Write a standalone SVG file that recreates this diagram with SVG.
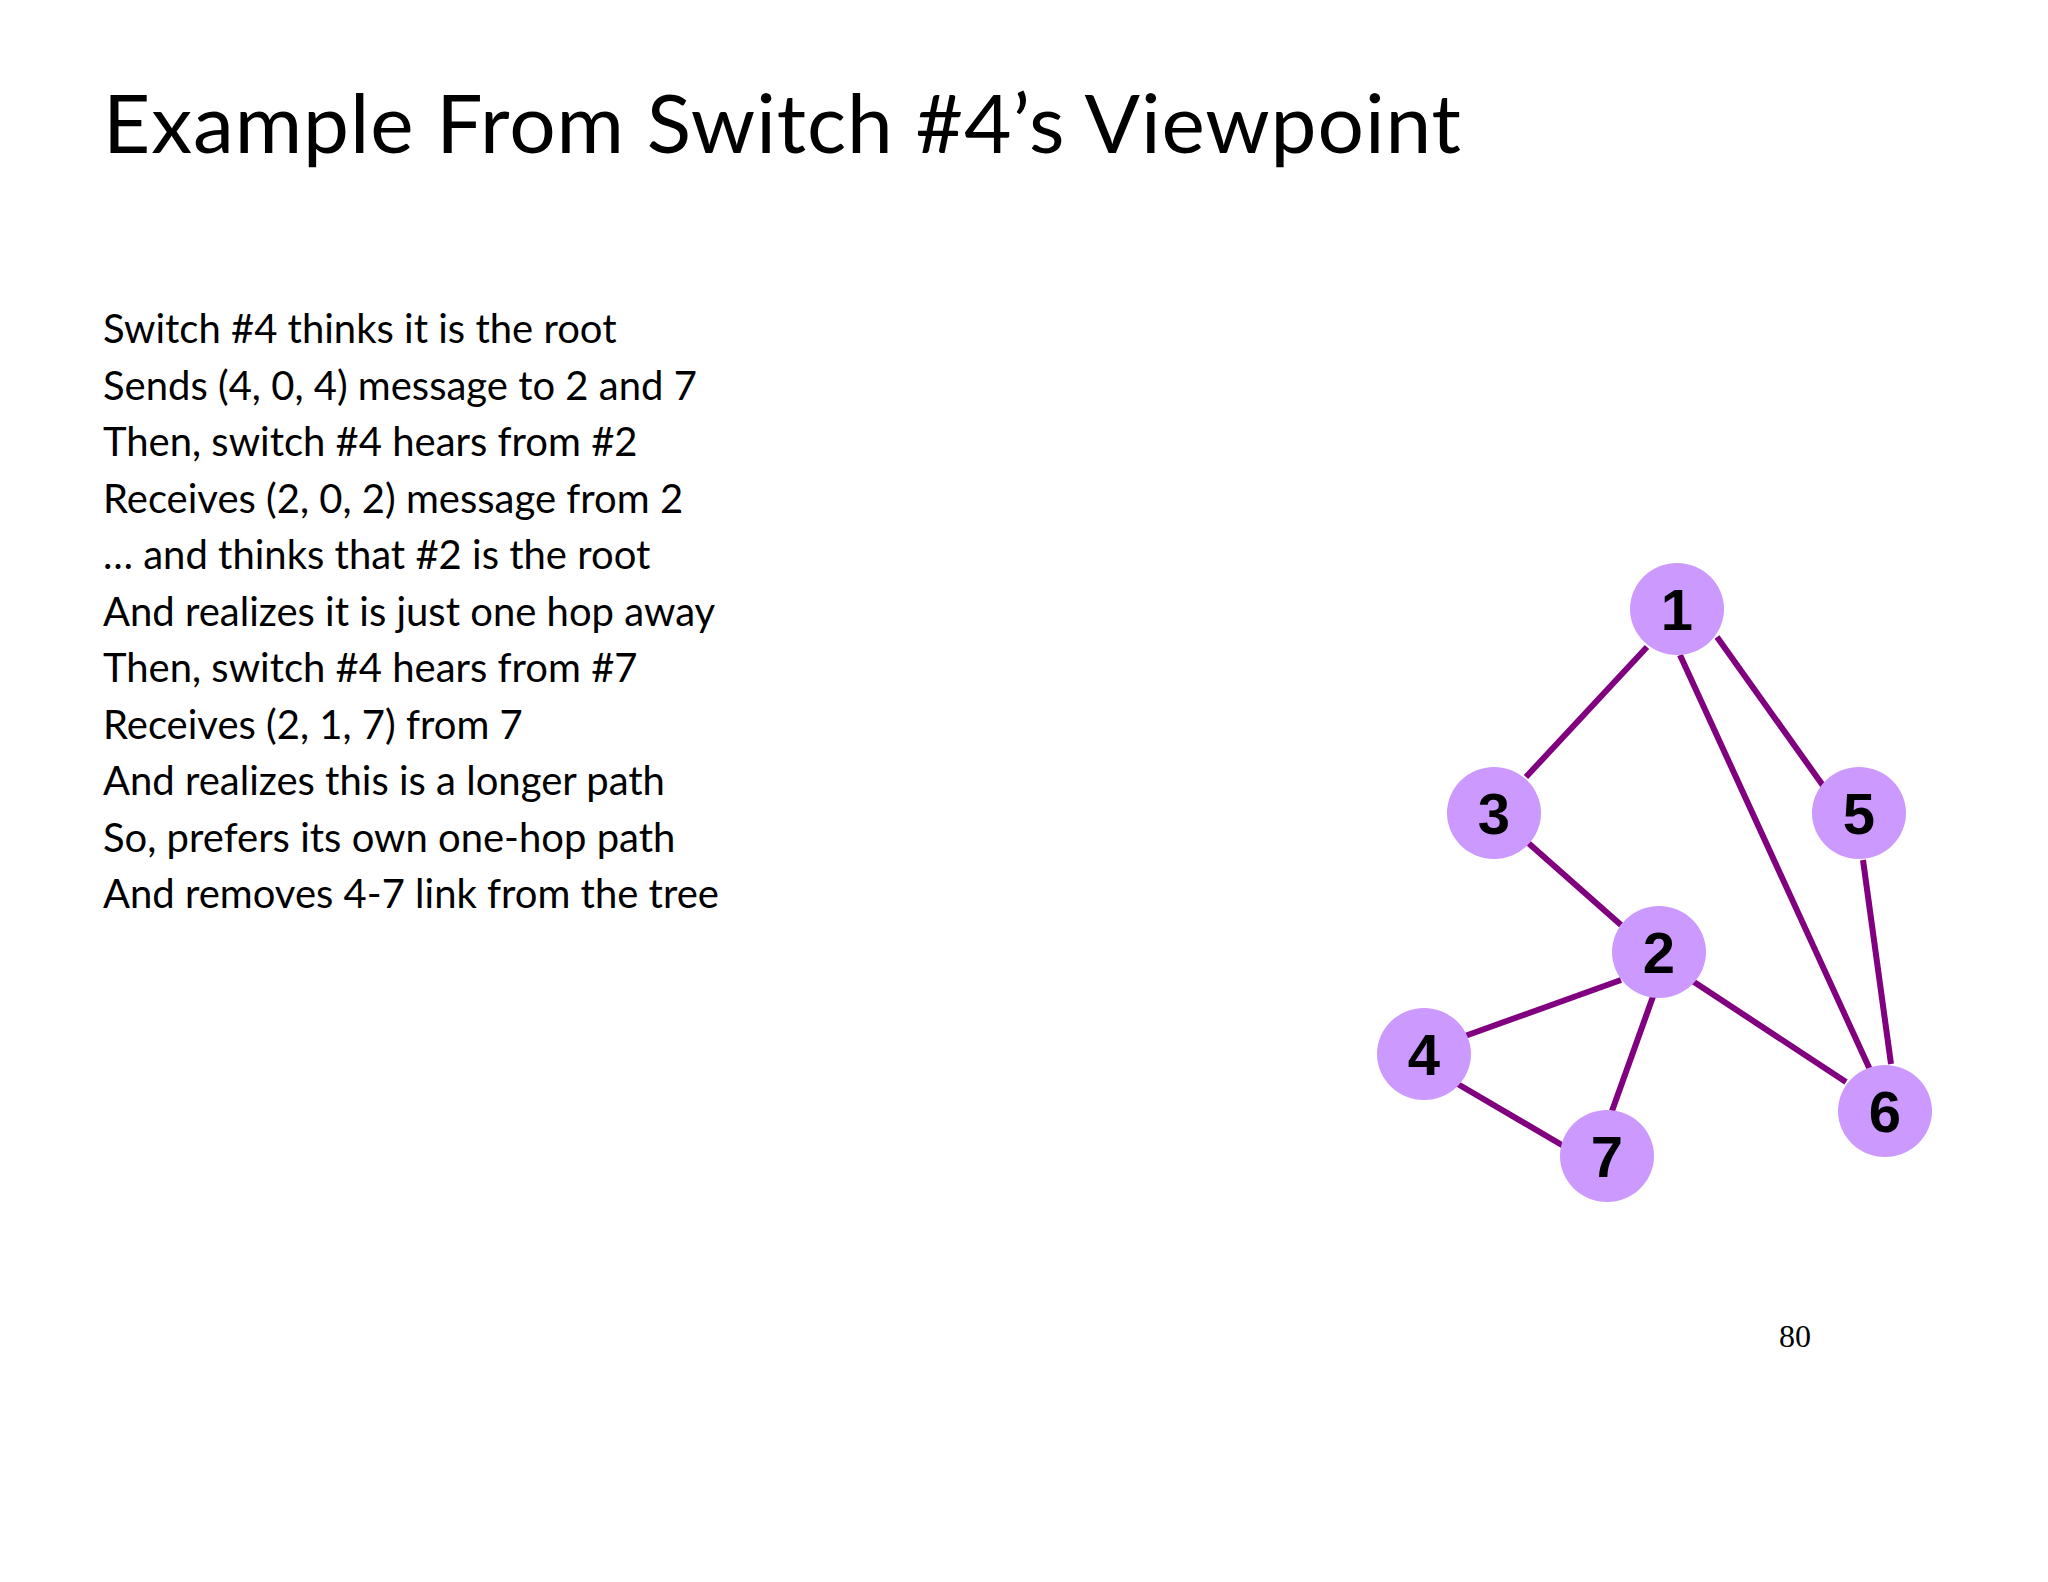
<svg xmlns="http://www.w3.org/2000/svg" width="2048" height="1582" viewBox="0 0 2048 1582">
<style>
.t{font-family:Lato,"Open Sans",sans-serif;fill:#000}
.b{font-size:40px}
.n ellipse{fill:#CC99FF}
.n text{font-family:"Liberation Sans",Arial,sans-serif;font-weight:bold;font-size:58px;text-anchor:middle;fill:#000}
#edges line{stroke:#800080;stroke-width:6}
</style>
<rect width="2048" height="1582" fill="#fff"/>
<text class="t" x="103" y="153" font-size="82" textLength="1358">Example From Switch #4’s Viewpoint</text>
<g class="t b">
<text x="103" y="343">Switch #4 thinks it is the root</text>
<text x="103" y="400">Sends (4, 0, 4) message to 2 and 7</text>
<text x="103" y="456">Then, switch #4 hears from #2</text>
<text x="103" y="513">Receives (2, 0, 2) message from 2</text>
<text x="103" y="569">… and thinks that #2 is the root</text>
<text x="103" y="626">And realizes it is just one hop away</text>
<text x="103" y="682">Then, switch #4 hears from #7</text>
<text x="103" y="739">Receives (2, 1, 7) from 7</text>
<text x="103" y="795">And realizes this is a longer path</text>
<text x="103" y="852">So, prefers its own one-hop path</text>
<text x="103" y="908">And removes 4-7 link from the tree</text>
</g>
<g id="edges">
<line x1="1647" y1="647" x2="1526" y2="777"/>
<line x1="1717" y1="637" x2="1829" y2="794"/>
<line x1="1680" y1="655" x2="1872" y2="1074"/>
<line x1="1863" y1="860" x2="1891" y2="1064"/>
<line x1="1526" y1="841" x2="1621" y2="925"/>
<line x1="1621" y1="980" x2="1465" y2="1036"/>
<line x1="1655" y1="991" x2="1612" y2="1111"/>
<line x1="1691" y1="980" x2="1846" y2="1082"/>
<line x1="1456" y1="1083" x2="1567" y2="1148"/>
</g>
<g id="n1" class="n"><ellipse cx="1677" cy="609" rx="47" ry="46"/><text x="1677" y="630">1</text></g>
<g id="n3" class="n"><ellipse cx="1494" cy="813" rx="47" ry="46"/><text x="1494" y="834">3</text></g>
<g id="n5" class="n"><ellipse cx="1859" cy="813" rx="47" ry="46"/><text x="1859" y="834">5</text></g>
<g id="n2" class="n"><ellipse cx="1659" cy="952" rx="47" ry="46"/><text x="1659" y="973">2</text></g>
<g id="n4" class="n"><ellipse cx="1424" cy="1054" rx="47" ry="46"/><text x="1424" y="1075">4</text></g>
<g id="n7" class="n"><ellipse cx="1607" cy="1156" rx="47" ry="46"/><text x="1607" y="1177">7</text></g>
<g id="n6" class="n"><ellipse cx="1885" cy="1111" rx="47" ry="46"/><text x="1885" y="1132">6</text></g>
<text x="1779" y="1347" font-family="Liberation Serif,serif" font-size="32">80</text>
</svg>
